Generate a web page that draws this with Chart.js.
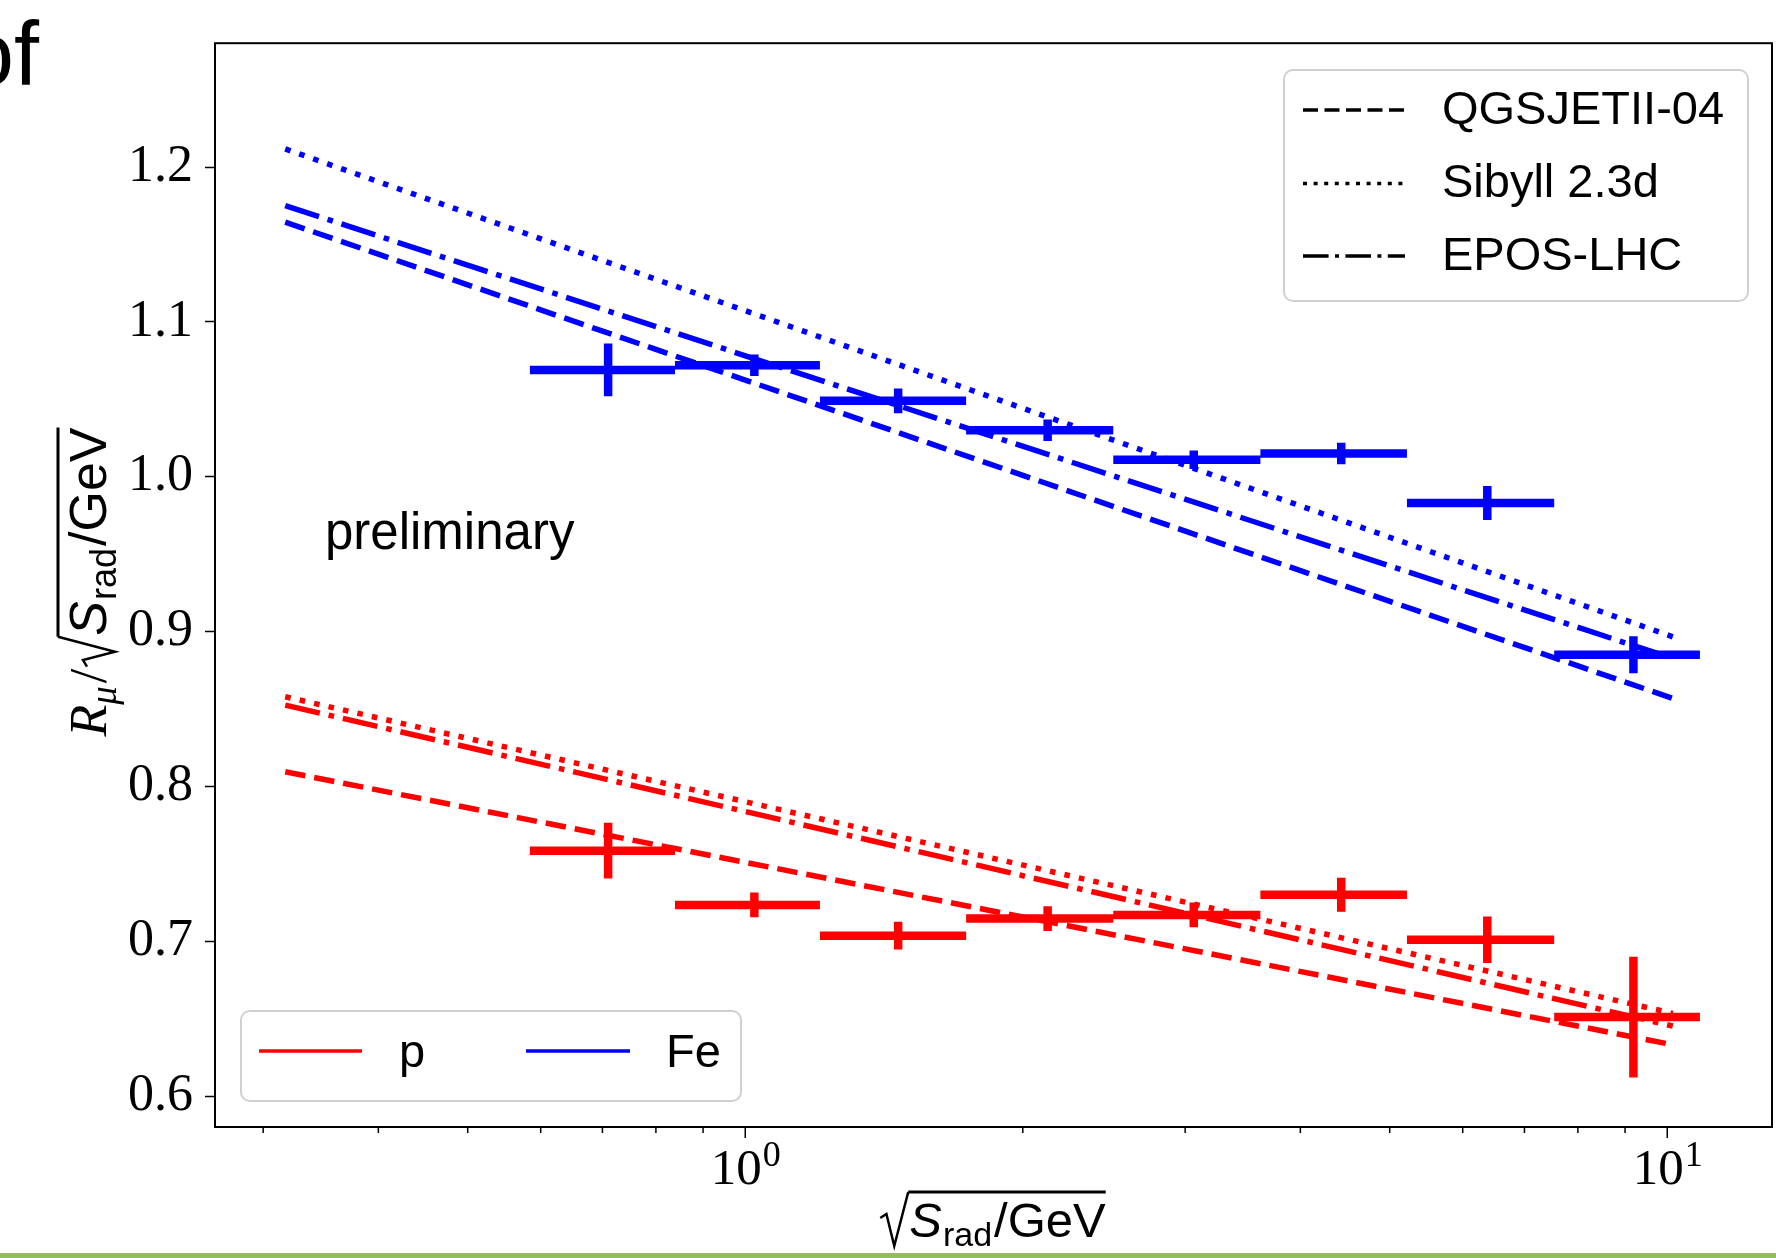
<!DOCTYPE html>
<html>
<head>
<meta charset="utf-8">
<script src="https://cdn.jsdelivr.net/npm/chart.js@4.4.1/dist/chart.umd.min.js"></script>
<style>
    html, body { margin: 0; padding: 0; background: #fff; overflow: hidden; }
    canvas { display: block; }
</style>
</head>
<body>
<canvas id="chart" width="1776" height="1258"></canvas>
<script>
// Bins in sqrt(S_rad/GeV): lower edge, upper edge, centre
const binLow = [0.584, 0.839, 1.205, 1.736, 2.507, 3.62, 5.22, 7.54];
const binHigh = [0.839, 1.205, 1.736, 2.507, 3.62, 5.22, 7.54, 10.85];
const binCenter = [0.710, 1.023, 1.465, 2.128, 3.065, 4.43, 6.38, 9.19];

// Measured points (value and error)
const feValues = [1.069, 1.072, 1.049, 1.030, 1.011, 1.015, 0.983, 0.885];
const feErrors = [0.017, 0.007, 0.008, 0.007, 0.006, 0.007, 0.011, 0.012];
const pValues = [0.7585, 0.7234, 0.7036, 0.7146, 0.717, 0.730, 0.701, 0.651];
const pErrors = [0.018, 0.008, 0.009, 0.008, 0.008, 0.011, 0.015, 0.039];

// Model predictions, start and end of each line
const modelX = [0.317, 10.14];
const feQgsjet = [1.1644, 0.8568];
const feSibyll = [1.2117, 0.8966];
const feEpos = [1.1751, 0.8827];
const pQgsjet = [0.8094, 0.6331];
const pSibyll = [0.8579, 0.6534];
const pEpos = [0.8525, 0.6452];

// Labels and ticks
const modelNames = ['QGSJETII-04', 'Sibyll 2.3d', 'EPOS-LHC'];
const primaryNames = ['p', 'Fe'];
const yTicks = [0.6, 0.7, 0.8, 0.9, 1.0, 1.1, 1.2];
const xMajorTicks = [1, 10];
const xMajorLabels = ['0', '1']; // exponents of 10
const xMinorTicks = [0.3, 0.4, 0.5, 0.6, 0.7, 0.8, 0.9, 2, 3, 4, 5, 6, 7, 8, 9];

const RED = '#ff0000';
const BLUE = '#0000ff';
const DASHED = [20.5, 9];
const DOTTED = [5.6, 9.2];
const DASHDOT = [35.5, 9, 5.6, 9];

// Horizontal bin bar + vertical error bar, broken up with null points
function errorbarPoints(values, errors) {
    const pts = [];
    values.forEach((v, i) => {
        pts.push({ x: binLow[i], y: v }, { x: binHigh[i], y: v }, { x: binHigh[i], y: null });
        pts.push({ x: binCenter[i], y: v - errors[i] }, { x: binCenter[i], y: v + errors[i] }, { x: binCenter[i], y: null });
    });
    return pts;
}

function errorbarSet(values, errors, color) {
    return {
        data: errorbarPoints(values, errors),
        borderColor: color,
        borderWidth: 8.5,
        borderCapStyle: 'butt',
        pointRadius: 0,
        spanGaps: false,
        fill: false
    };
}

function modelSet(yv, color, dash) {
    return {
        data: modelX.map((x, i) => ({ x: x, y: yv[i] })),
        borderColor: color,
        borderWidth: 5.5,
        borderDash: dash,
        borderCapStyle: 'butt',
        pointRadius: 0,
        fill: false
    };
}

// Draws a row of text runs (with optional radical sign) centred at cx, cy
function drawRuns(ctx, runs, cx, cy, angle, top) {
    let total = 0;
    runs.forEach(r => {
        if (r.radical) { r.w = r.radical; }
        else { ctx.font = r.font; r.w = ctx.measureText(r.text).width; }
        total += r.w + (r.gap || 0);
    });
    ctx.save();
    ctx.translate(cx, cy);
    ctx.rotate(angle);
    ctx.fillStyle = '#000';
    ctx.strokeStyle = '#000';
    ctx.textBaseline = 'alphabetic';
    ctx.textAlign = 'left';
    let x = -total / 2;
    let radStart = null;
    runs.forEach(r => {
        if (r.radical) {
            ctx.lineWidth = 2.5;
            ctx.setLineDash([]);
            ctx.beginPath();
            ctx.moveTo(x, -19);
            ctx.lineTo(x + r.w * 0.22, -23);
            ctx.lineTo(x + r.w * 0.5, 9);
            ctx.lineTo(x + r.w, top);
            ctx.stroke();
            radStart = x + r.w;
        } else {
            ctx.font = r.font;
            ctx.fillText(r.text, x, r.dy || 0);
        }
        x += r.w + (r.gap || 0);
    });
    if (radStart !== null) {
        ctx.lineWidth = 3;
        ctx.beginPath();
        ctx.moveTo(radStart, top);
        ctx.lineTo(x, top);
        ctx.stroke();
    }
    ctx.restore();
}

function legendBox(ctx, x, y, w, h) {
    ctx.save();
    ctx.fillStyle = 'rgba(255,255,255,0.8)';
    ctx.strokeStyle = '#d0d0d0';
    ctx.lineWidth = 2;
    ctx.setLineDash([]);
    ctx.beginPath();
    ctx.roundRect(x, y, w, h, 9);
    ctx.fill();
    ctx.stroke();
    ctx.restore();
}

function sampleLine(ctx, x1, x2, y, color, dash, width) {
    ctx.save();
    ctx.strokeStyle = color;
    ctx.lineWidth = width;
    ctx.lineCap = 'butt';
    ctx.setLineDash(dash);
    ctx.beginPath();
    ctx.moveTo(x1, y);
    ctx.lineTo(x2, y);
    ctx.stroke();
    ctx.restore();
}

const sqrtRuns = size => [
    { radical: Math.round(size * 0.58), gap: 1 },
    { text: 'S', font: `italic ${size}px "Liberation Sans"`, gap: 1 },
    { text: 'rad', font: `${Math.round(size * 0.69)}px "Liberation Sans"`, dy: size * 0.19, gap: 2 },
    { text: '/GeV', font: `${size}px "Liberation Sans"` }
];

// Frame, x ticks, titles, legends and slide fragments
const decorPlugin = {
    id: 'decor',
    afterDraw(chart) {
        const ctx = chart.ctx;
        const area = chart.chartArea;
        const xs = chart.scales.x;
        ctx.save();
        ctx.strokeStyle = '#000';
        ctx.lineWidth = 2;
        ctx.setLineDash([]);
        ctx.strokeRect(area.left, area.top, area.right - area.left, area.bottom - area.top);

        // x ticks (outward)
        ctx.lineWidth = 1.5;
        xMajorTicks.forEach(v => {
            const px = xs.getPixelForValue(v);
            ctx.beginPath(); ctx.moveTo(px, area.bottom); ctx.lineTo(px, area.bottom + 11); ctx.stroke();
        });
        xMinorTicks.forEach(v => {
            const px = xs.getPixelForValue(v);
            ctx.beginPath(); ctx.moveTo(px, area.bottom); ctx.lineTo(px, area.bottom + 6); ctx.stroke();
        });

        // x tick labels 10^n
        ctx.fillStyle = '#000';
        ctx.textBaseline = 'alphabetic';
        xMajorTicks.forEach((v, i) => {
            const px = xs.getPixelForValue(v);
            ctx.font = '51px "Liberation Serif"';
            const wBase = ctx.measureText('10').width;
            ctx.font = '36px "Liberation Serif"';
            const wExp = ctx.measureText(xMajorLabels[i]).width;
            const x0 = px - (wBase + wExp) / 2;
            ctx.font = '51px "Liberation Serif"';
            ctx.textAlign = 'left';
            ctx.fillText('10', x0, 1184);
            ctx.font = '36px "Liberation Serif"';
            ctx.fillText(xMajorLabels[i], x0 + wBase + 1, 1166);
        });

        // axis titles
        drawRuns(ctx, [
            { text: 'R', font: 'italic 52px "Liberation Serif"', gap: 0 },
            { text: 'μ', font: 'italic 37px "Liberation Serif"', dy: 10, gap: 3 },
            { text: '/', font: '52px "Liberation Serif"', gap: 2 }
        ].concat(sqrtRuns(52)), 106, 582, -Math.PI / 2, -48);
        drawRuns(ctx, sqrtRuns(49), 993, 1237, 0, -45);

        // preliminary
        ctx.font = '51px "Liberation Sans"';
        ctx.textAlign = 'left';
        ctx.fillStyle = '#000';
        ctx.fillText('preliminary', 325, 549);

        // model legend (top right)
        legendBox(ctx, 1284, 70, 464, 231);
        const legDash = [[15, 6.5], [4, 6.6], [25.6, 6.4, 4, 6.4]];
        const rows = [110, 183.5, 256];
        ctx.font = '47px "Liberation Sans"';
        ctx.textBaseline = 'middle';
        modelNames.forEach((name, i) => {
            sampleLine(ctx, 1303, 1405, rows[i], '#000', legDash[i], 3.5);
            ctx.fillStyle = '#000';
            ctx.fillText(name, 1442, rows[i] + 1);
        });

        // primary legend (bottom left)
        legendBox(ctx, 241, 1011, 500, 90);
        sampleLine(ctx, 259, 362, 1051, RED, [], 3.5);
        sampleLine(ctx, 526, 630, 1051, BLUE, [], 3.5);
        ctx.fillStyle = '#000';
        ctx.fillText(primaryNames[0], 399, 1054);
        ctx.fillText(primaryNames[1], 666, 1054);

        // fragment of the slide title and the slide's green rule
        ctx.font = '90px "Liberation Sans"';
        ctx.textBaseline = 'alphabetic';
        ctx.fillText('of', -36, 85);
        ctx.fillStyle = '#92bd5c';
        ctx.fillRect(0, 1253, 1776, 5);
        ctx.restore();
    }
};

const ctx = document.getElementById('chart').getContext('2d');
const chart = new Chart(ctx, {
    type: 'line',
    data: {
        datasets: [
            errorbarSet(feValues, feErrors, BLUE),
            errorbarSet(pValues, pErrors, RED),
            modelSet(feQgsjet, BLUE, DASHED),
            modelSet(feSibyll, BLUE, DOTTED),
            modelSet(feEpos, BLUE, DASHDOT),
            modelSet(pQgsjet, RED, DASHED),
            modelSet(pSibyll, RED, DOTTED),
            modelSet(pEpos, RED, DASHDOT)
        ]
    },
    options: {
        responsive: false,
        animation: false,
        devicePixelRatio: 1,
        layout: { padding: { top: 42, right: 4, left: 0, bottom: 0 } },
        plugins: { legend: { display: false }, tooltip: { enabled: false } },
        elements: { line: { tension: 0 } },
        scales: {
            x: {
                type: 'logarithmic',
                min: 0.266,
                max: 12.99,
                afterFit: s => { s.height = 131; },
                grid: { display: false },
                border: { display: false },
                ticks: { display: false }
            },
            y: {
                type: 'linear',
                min: 0.58,
                max: 1.28,
                afterBuildTicks: s => { s.ticks = yTicks.map(v => ({ value: v })); },
                afterFit: s => { s.width = 215; },
                grid: { display: true, drawOnChartArea: false, drawTicks: true, tickLength: 10, tickWidth: 1.5, tickColor: '#000' },
                border: { display: false },
                ticks: {
                    color: '#000',
                    padding: 12,
                    font: { family: 'Liberation Serif', size: 52 },
                    callback: v => Number(v).toFixed(1)
                }
            }
        }
    },
    plugins: [decorPlugin]
});
</script>
</body>
</html>
